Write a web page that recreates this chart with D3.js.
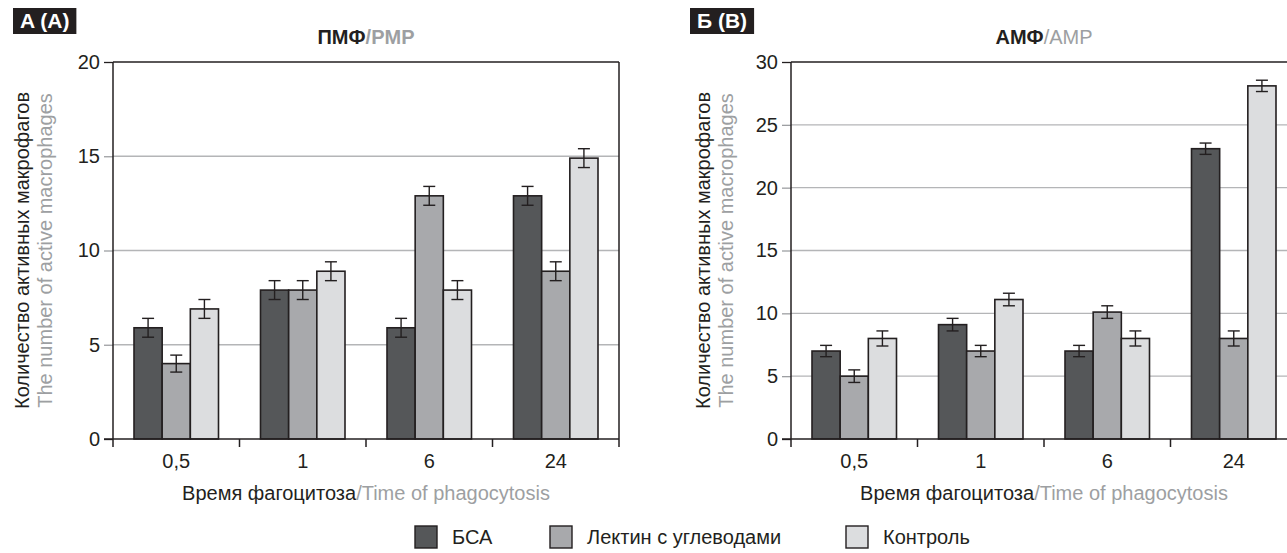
<!DOCTYPE html>
<html>
<head>
<meta charset="utf-8">
<script src="https://cdn.jsdelivr.net/npm/d3@7"></script>
<style>
  body { margin: 0; background: #fff; }
  svg text { font-family: "Liberation Sans", Arial, sans-serif; }
</style>
</head>
<body>
<div id="grafica"></div>
<script>
// Datos
categorias = ['0,5', '1', '6', '24']
series = ['БСА', 'Лектин с углеводами', 'Контроль']
colores = ['#555759', '#a8a9ac', '#dcdddf']

// ПМФ (A): valores por categoria, en orden de series
valoresPMF = [[5.9, 4.0, 6.9], [7.9, 7.9, 8.9], [5.9, 12.9, 7.9], [12.9, 8.9, 14.9]]
erroresPMF = [[0.5, 0.45, 0.5], [0.5, 0.5, 0.5], [0.5, 0.5, 0.5], [0.5, 0.5, 0.5]]
ticksPMF = [0, 5, 10, 15, 20]

// АМФ (B)
valoresAMF = [[7.0, 5.0, 8.0], [9.1, 7.0, 11.1], [7.0, 10.1, 8.0], [23.1, 8.0, 28.1]]
erroresAMF = [[0.45, 0.5, 0.6], [0.5, 0.45, 0.5], [0.45, 0.5, 0.6], [0.45, 0.6, 0.45]]
ticksAMF = [0, 5, 10, 15, 20, 25, 30]

oscuro = '#231f20'
gris = '#9d9fa2'

svg = d3.select('#grafica')
  .append('svg')
  .attr('width', 1287)
  .attr('height', 553)

top0 = 62
alto = 377
ancho = 506

function panel(opts) {
  g = svg.append('g')
    .attr('transform', `translate(${opts.left}, ${top0})`)

  x = d3.scaleBand().domain(categorias).range([0, ancho])
  xs = d3.scaleBand().domain(series).range([21, x.bandwidth() - 21])
  y = d3.scaleLinear().domain([0, d3.max(opts.ticks)]).range([alto, 0])

  // rejilla
  g.selectAll('.grid')
    .data(opts.ticks.slice(1, -1))
    .enter().append('line')
    .attr('x1', 0).attr('x2', ancho)
    .attr('y1', d => y(d)).attr('y2', d => y(d))
    .attr('stroke', '#b4b5b7').attr('stroke-width', 1.3)

  // eje y
  yAxis = g.append('g').call(d3.axisLeft(y).tickValues(opts.ticks).tickSize(9).tickPadding(4))
  yAxis.select('.domain').remove()
  yAxis.selectAll('.tick line')
    .attr('stroke', d => (d == 0 || d == d3.max(opts.ticks)) ? oscuro : '#9d9fa2')
    .attr('stroke-width', 1.3)
  yAxis.selectAll('text')
    .style('font-size', '20px')
    .attr('fill', oscuro)

  // marco
  g.append('line').attr('x1', 0).attr('x2', ancho).attr('y1', 0).attr('y2', 0)
    .attr('stroke', oscuro).attr('stroke-width', 1.5)
  g.append('line').attr('x1', ancho).attr('x2', ancho).attr('y1', 0).attr('y2', alto)
    .attr('stroke', oscuro).attr('stroke-width', 1.5)
  g.append('line').attr('x1', 0).attr('x2', 0).attr('y1', 0).attr('y2', alto)
    .attr('stroke', oscuro).attr('stroke-width', 1.5)

  // barras
  grupos = g.selectAll('.grupo')
    .data(opts.valores)
    .enter().append('g')
    .attr('transform', (d, i) => `translate(${x(categorias[i])}, 0)`)

  grupos.each(function(vals, i) {
    gg = d3.select(this)
    gg.selectAll('rect')
      .data(vals)
      .enter().append('rect')
      .attr('x', (d, j) => xs(series[j]))
      .attr('y', d => y(d))
      .attr('width', xs.bandwidth())
      .attr('height', d => alto - y(d))
      .attr('fill', (d, j) => colores[j])
      .attr('stroke', oscuro)
      .attr('stroke-width', 1.6)

    errs = opts.errores[i]
    eb = gg.selectAll('.err')
      .data(vals)
      .enter().append('g')
    eb.append('line')
      .attr('x1', (d, j) => xs(series[j]) + xs.bandwidth() / 2)
      .attr('x2', (d, j) => xs(series[j]) + xs.bandwidth() / 2)
      .attr('y1', (d, j) => y(d + errs[j]))
      .attr('y2', (d, j) => y(d - errs[j]))
    eb.append('line')
      .attr('x1', (d, j) => xs(series[j]) + xs.bandwidth() / 2 - 6)
      .attr('x2', (d, j) => xs(series[j]) + xs.bandwidth() / 2 + 6)
      .attr('y1', (d, j) => y(d + errs[j]))
      .attr('y2', (d, j) => y(d + errs[j]))
    eb.append('line')
      .attr('x1', (d, j) => xs(series[j]) + xs.bandwidth() / 2 - 6)
      .attr('x2', (d, j) => xs(series[j]) + xs.bandwidth() / 2 + 6)
      .attr('y1', (d, j) => y(d - errs[j]))
      .attr('y2', (d, j) => y(d - errs[j]))
    eb.selectAll('line').attr('stroke', oscuro).attr('stroke-width', 1.4)
  })

  // eje x
  xAxis = g.append('g')
    .attr('transform', `translate(0, ${alto})`)
    .call(d3.axisBottom(x).tickSize(0).tickPadding(15))
  xAxis.select('.domain').remove()
  xAxis.selectAll('text').style('font-size', '20px').attr('fill', oscuro)
  g.append('line').attr('x1', -9).attr('x2', ancho).attr('y1', alto).attr('y2', alto)
    .attr('stroke', oscuro).attr('stroke-width', 1.5)
  limites = d3.range(categorias.length + 1).map(i => i * x.bandwidth())
  g.selectAll('.xtick')
    .data(limites)
    .enter().append('line')
    .attr('x1', d => d).attr('x2', d => d)
    .attr('y1', alto).attr('y2', alto + 8)
    .attr('stroke', oscuro).attr('stroke-width', 1.5)

  // titulo del eje x
  tx = g.append('text')
    .attr('x', ancho / 2).attr('y', alto + 61)
    .attr('text-anchor', 'middle')
    .attr('fill', oscuro)
    .style('font-size', '20px')
  tx.append('tspan').text('Время фагоцитоза')
  tx.append('tspan').attr('fill', gris).text('/Time of phagocytosis')

  // titulo del eje y (dos lineas)
  ty = g.append('g')
    .attr('transform', `translate(${opts.yTitleX}, ${alto / 2}) rotate(-90)`)
  ty.append('text').attr('text-anchor', 'middle').attr('y', 0)
    .attr('fill', oscuro)
    .style('font-size', '20px').text('Количество активных макрофагов')
  ty.append('text').attr('text-anchor', 'middle').attr('y', 23)
    .attr('fill', gris).style('font-size', '20px').text('The number of active macrophages')

  // titulo del panel
  tt = g.append('text')
    .attr('x', ancho / 2).attr('y', -18)
    .attr('text-anchor', 'middle')
    .attr('fill', oscuro)
    .style('font-size', '20px')
  tt.append('tspan').style('font-weight', 'bold').text(opts.titulo[0])
  tt.append('tspan').attr('fill', gris).style('font-weight', opts.tituloBold ? 'bold' : 'normal').text('/' + opts.titulo[1])

  // etiqueta del panel
  et = svg.append('g').attr('transform', `translate(${opts.etiquetaX}, 8)`)
  etText = et.append('text')
    .attr('x', 7).attr('y', 20)
    .style('font-size', '21px').style('font-weight', 'bold')
    .attr('fill', '#fff')
    .text(opts.etiqueta)
  w = etText.node().getComputedTextLength()
  et.insert('rect', 'text')
    .attr('width', w + 14).attr('height', 26)
    .attr('fill', oscuro)
}

panel({
  left: 113, valores: valoresPMF, errores: erroresPMF, ticks: ticksPMF,
  titulo: ['ПМФ', 'PMP'], tituloBold: true, etiqueta: 'A (A)', etiquetaX: 13, yTitleX: -84
})
panel({
  left: 791, valores: valoresAMF, errores: erroresAMF, ticks: ticksAMF,
  titulo: ['АМФ', 'AMP'], tituloBold: false, etiqueta: 'Б (B)', etiquetaX: 690, yTitleX: -81
})

// Leyenda
leyendaX = [415, 550, 846]
ley = svg.append('g').attr('transform', 'translate(0, 526)')
ley.selectAll('rect')
  .data(series)
  .enter().append('rect')
  .attr('x', (d, i) => leyendaX[i]).attr('y', 0)
  .attr('width', 22).attr('height', 22)
  .attr('fill', (d, i) => colores[i])
  .attr('stroke', oscuro).attr('stroke-width', 1.4)
ley.selectAll('text')
  .data(series)
  .enter().append('text')
  .attr('x', (d, i) => leyendaX[i] + 37).attr('y', 18)
  .attr('fill', oscuro)
  .style('font-size', '20px')
  .text(d => d)
</script>
</body>
</html>
